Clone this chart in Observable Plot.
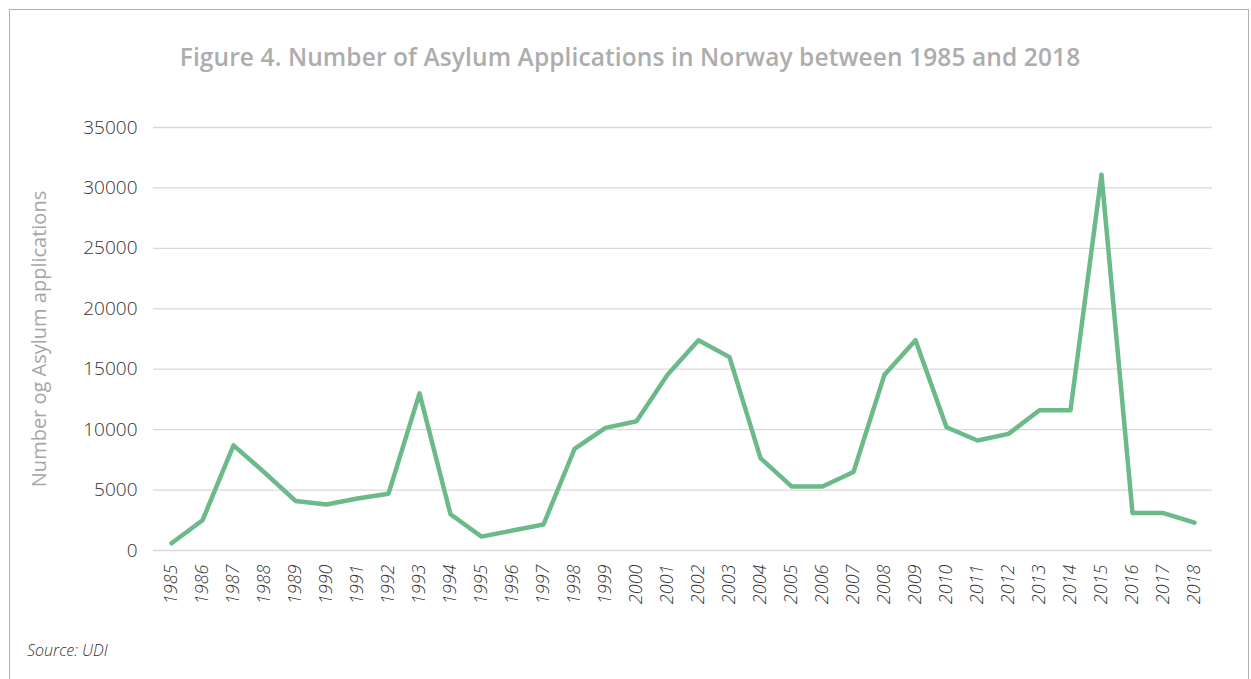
<!DOCTYPE html>
<html>
<head>
<meta charset="utf-8">
<script src="https://cdn.jsdelivr.net/npm/d3@7"></script>
<script src="https://cdn.jsdelivr.net/npm/@observablehq/plot@0.6"></script>
<style>
  html, body { margin: 0; padding: 0; background: #fff; width: 1251px; height: 679px; overflow: hidden; }
  body { font-family: "Open Sans", sans-serif; position: relative; }
  #frame { position: absolute; left: 9px; top: 9px; width: 1240px; height: 700px; border: 1.5px solid #b0b0b0; box-sizing: border-box; }
  #title { position: absolute; left: 0; width: 1260px; top: 40px; text-align: center; color: #adadad; font-size: 24.5px; font-weight: 600; letter-spacing: 0.1px; }
  #chart { position: absolute; left: 0; top: 100px; }
  #caption { position: absolute; left: 27px; top: 639px; font-size: 16px; font-style: italic; font-weight: 300; color: #333; }
  #chart g[aria-label="x-axis tick label"] text { font-style: italic; font-size: 18px; font-weight: 300; }
  #chart g[aria-label="y-axis tick label"] text { font-size: 19px; font-weight: 300; }
</style>
</head>
<body>
<div id="frame"></div>
<div id="title">Figure 4. Number of Asylum Applications in Norway between 1985 and 2018</div>
<div id="chart"></div>
<div id="caption">Source: UDI</div>
<script>
const years = ["1985","1986","1987","1988","1989","1990","1991","1992","1993","1994","1995","1996","1997","1998","1999","2000","2001","2002","2003","2004","2005","2006","2007","2008","2009","2010","2011","2012","2013","2014","2015","2016","2017","2018"];
const applications = [600,2500,8700,6450,4100,3800,4300,4700,13000,3000,1150,1650,2150,8400,10150,10700,14550,17400,16000,7650,5300,5300,6500,14550,17400,10200,9100,9650,11600,11600,31100,3100,3100,2300];
const yTicks = [0,5000,10000,15000,20000,25000,30000,35000];
const yLabel = "Number og Asylum applications";

const data = years.map((y, i) => ({year: y, value: applications[i]}));

const plot = Plot.plot({
  width: 1251,
  height: 560,
  marginLeft: 153,
  marginRight: 39,
  marginTop: 27,
  marginBottom: 110,
  style: { fontFamily: "Open Sans, sans-serif", fontSize: "17px", color: "#333", background: "transparent" },
  x: { type: "point", domain: years, padding: 0.4 },
  y: { domain: [0, 35000] },
  marks: [
    Plot.gridY(yTicks, { stroke: "#d9d9d9", strokeOpacity: 1, strokeWidth: 1.3 }),
    Plot.axisY(yTicks, { tickSize: 0, tickPadding: 16, tickFormat: d => String(d), label: yLabel, labelAnchor: "center", labelOffset: 122, labelArrow: "none", fill: "#333" }),
    Plot.axisX({ tickSize: 0, tickPadding: 14, tickRotate: -90, label: null, fill: "#333" }),
    Plot.line(data, { x: "year", y: "value", stroke: "#6cb98a", strokeWidth: 4.5, strokeLinejoin: "round", strokeLinecap: "round" })
  ]
});
document.getElementById("chart").appendChild(plot);
const lab = plot.querySelector('g[aria-label="y-axis label"]');
if (lab) { lab.setAttribute("fill", "#a6a6a6"); lab.style.fontSize = "20px"; }
</script>
</body>
</html>
